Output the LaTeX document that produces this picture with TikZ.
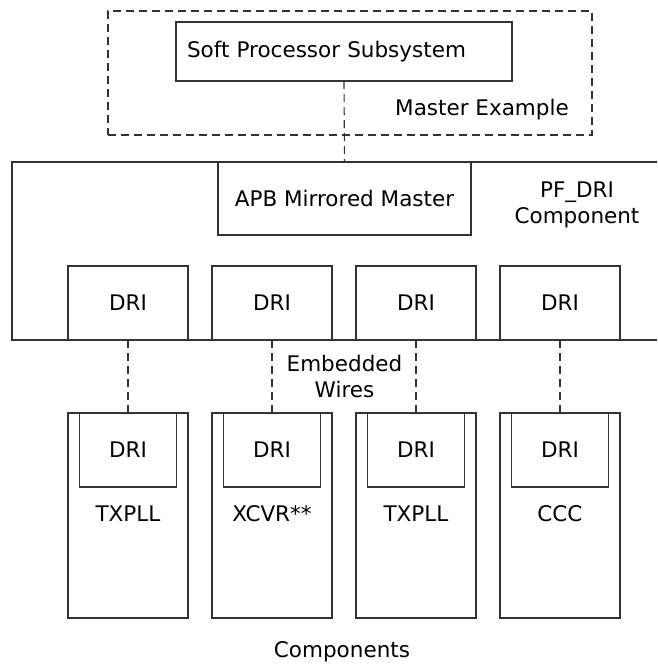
\documentclass[tikz,border=0pt]{standalone}
\usepackage{fontspec}
\setmainfont{DejaVu Sans}
\begin{document}
\begin{tikzpicture}[x=1pt,y=-1pt,
  every node/.style={font=\fontsize{21.5}{26}\selectfont, inner sep=0pt, outer sep=0pt},
  box/.style={draw=black!80, line width=1.1pt, rectangle},
  wire/.style={draw=black!80, line width=1.1pt, dash pattern=on 8pt off 5pt},
  topdri/.style={box, minimum width=120pt, minimum height=74pt},
  compbox/.style={box, minimum width=120pt, minimum height=205pt},
  innerdri/.style={box, minimum width=97pt, minimum height=74pt},
  lbl/.style={align=center}
]
\useasboundingbox (0,0) rectangle (657,665);

% Master example (dashed)
\node[box, dash pattern=on 8pt off 5pt, minimum width=484pt, minimum height=124pt] (master) at (350,73) {};
\node[box, anchor=west, text width=314pt, inner xsep=11pt, minimum height=59pt, align=left] (sps) at (176,51.5) {Soft Processor Subsystem};
\node[lbl] (masterlbl) at (482,110) {Master Example};

% PF_DRI component (open on right)
\coordinate (pftr) at (657,162);
\coordinate (pfbr) at (657,340);
\draw[draw=black!80, line width=1.1pt] (pftr) -- (12,162) -- (12,340) -- (pfbr);
\node[lbl] (pflbl) at (577,204.5) {PF\_DRI\\Component};
\node[box, minimum width=253pt, minimum height=73pt] (apb) at (344.5,198.5) {APB Mirrored Master};

% Top DRI boxes
\node[topdri] (t1) at (128,303) {DRI};
\node[topdri] (t2) at (272,303) {DRI};
\node[topdri] (t3) at (416,303) {DRI};
\node[topdri] (t4) at (560,303) {DRI};

% Component boxes
\node[compbox] (c1) at (128,515.5) {};
\node[compbox] (c2) at (272,515.5) {};
\node[compbox] (c3) at (416,515.5) {};
\node[compbox] (c4) at (560,515.5) {};

\node[innerdri, anchor=north] (d1) at (c1.north) {DRI};
\node[innerdri, anchor=north] (d2) at (c2.north) {DRI};
\node[innerdri, anchor=north] (d3) at (c3.north) {DRI};
\node[innerdri, anchor=north] (d4) at (c4.north) {DRI};

\node (n1) at (128,514) {TXPLL};
\node (n2) at (272,514) {XCVR**};
\node (n3) at (416,514) {TXPLL};
\node (n4) at (560,514) {CCC};

\node[lbl] (ew) at (344.5,376) {Embedded\\Wires};
\node (comps) at (342,652) {Components};

% Connectors
\draw[wire] (sps.south) -- (apb.north);
\draw[wire] (t1.south) -- (d1.north);
\draw[wire] (t2.south) -- (d2.north);
\draw[wire] (t3.south) -- (d3.north);
\draw[wire] (t4.south) -- (d4.north);
\end{tikzpicture}
\end{document}
